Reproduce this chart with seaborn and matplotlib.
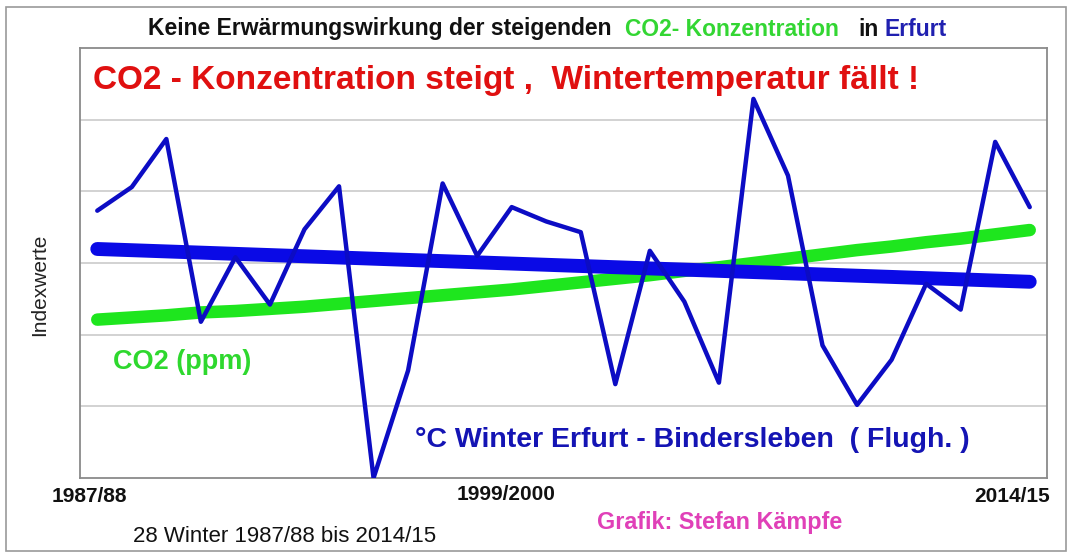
import numpy as np
import pandas as pd
import matplotlib.pyplot as plt
import seaborn as sns
from matplotlib.patches import Rectangle

# 28 winters 1987/88 .. 2014/15 (index units, 0..6)
winters = list(range(28))
temp_index = [3.73, 4.06, 4.73, 2.18, 3.08, 2.42, 3.47, 4.07, 0.00, 1.50,
              4.11, 3.10, 3.78, 3.58, 3.43, 1.31, 3.17, 2.46, 1.33, 5.29,
              4.22, 1.85, 1.02, 1.65, 2.71, 2.35, 4.69, 3.78]
co2_index = [2.21, 2.24, 2.27, 2.31, 2.33, 2.36, 2.39, 2.43, 2.47, 2.51,
             2.55, 2.59, 2.63, 2.68, 2.73, 2.78, 2.83, 2.89, 2.94, 3.00,
             3.06, 3.12, 3.18, 3.23, 3.29, 3.34, 3.40, 3.46]
tick_labels = ['1987/88', '1999/2000', '2014/15']

df = pd.DataFrame({'winter': winters, 'temp': temp_index, 'co2': co2_index})

sns.set_style('white')
plt.rcParams['font.family'] = ['Liberation Sans', 'DejaVu Sans']

W, H = 1073, 557
fig = plt.figure(figsize=(W / 100, H / 100), dpi=100)
ax = fig.add_axes([80 / W, 1 - 478 / H, (1047 - 80) / W, (478 - 48) / H])

def px(x, y):
    return x / W, 1 - y / H

sns.lineplot(data=df, x='winter', y='co2', ax=ax, color='#1ee61e', lw=9,
             solid_capstyle='round', zorder=2)
sns.regplot(data=df, x='winter', y='temp', ax=ax, scatter=False, ci=None,
            color='#0a0ae6', line_kws={'lw': 10, 'solid_capstyle': 'round', 'zorder': 3})
sns.lineplot(data=df, x='winter', y='temp', ax=ax, color='#0c0cc4', lw=3.2,
             zorder=4)

ax.set_xlim(-0.5, 27.5)
ax.set_ylim(0, 6)
ax.set_yticks([1, 2, 3, 4, 5])
ax.set_yticklabels([])
ax.yaxis.grid(True, color='#cfcfcf', lw=1.3)
ax.set_axisbelow(True)
ax.set_xticks([])
ax.set_xlabel('')
ax.set_ylabel('')
for s in ax.spines.values():
    s.set_color('#8a8a8a')
    s.set_linewidth(1.3)

# x labels (first, middle, last winter)
label_xy = [(89, 497), (506, 495), (1012, 497)]
for (xx, yy), lab in zip(label_xy, tick_labels):
    fig.text(*px(xx, yy), lab, ha='center', va='center', fontsize=15,
             fontweight='bold', color='#111111')

fig.text(*px(40, 285), 'Indexwerte', rotation=90, ha='center', va='center',
         fontsize=15, color='#222222')

# title in pieces
title_kw = dict(ha='left', va='center', fontsize=16.5, fontweight='bold')
fig.text(*px(148, 29), 'Keine Erwärmungswirkung der steigenden', color='#111111', **title_kw)
fig.text(*px(625, 29), 'CO2- Konzentration', color='#33d633', **title_kw)
fig.text(*px(858, 29), 'in', color='#111111', **title_kw)
fig.text(*px(885, 29), 'Erfurt', color='#2020b0', **title_kw)

fig.text(*px(93, 80), 'CO2 - Konzentration steigt ,  Wintertemperatur fällt !',
         ha='left', va='center', fontsize=24, fontweight='bold', color='#e01010')
fig.text(*px(113, 362), 'CO2 (ppm)', ha='left', va='center', fontsize=19.5,
         fontweight='bold', color='#2ed82e')
fig.text(*px(415, 440), '°C Winter Erfurt - Bindersleben  ( Flugh. )', ha='left',
         va='center', fontsize=20.5, fontweight='bold', color='#1414b4')
fig.text(*px(133, 536), '28 Winter 1987/88 bis 2014/15', ha='left', va='center',
         fontsize=16, color='#111111')
fig.text(*px(597, 522), 'Grafik: Stefan Kämpfe', ha='left', va='center',
         fontsize=16.8, fontweight='bold', color='#e040b8')

fig.patches.append(Rectangle(px(6, 551), (1066 - 6) / W, (551 - 7) / H,
                             transform=fig.transFigure, fill=False,
                             edgecolor='#9a9a9a', lw=1.2))

fig.savefig('out.png', dpi=100)
